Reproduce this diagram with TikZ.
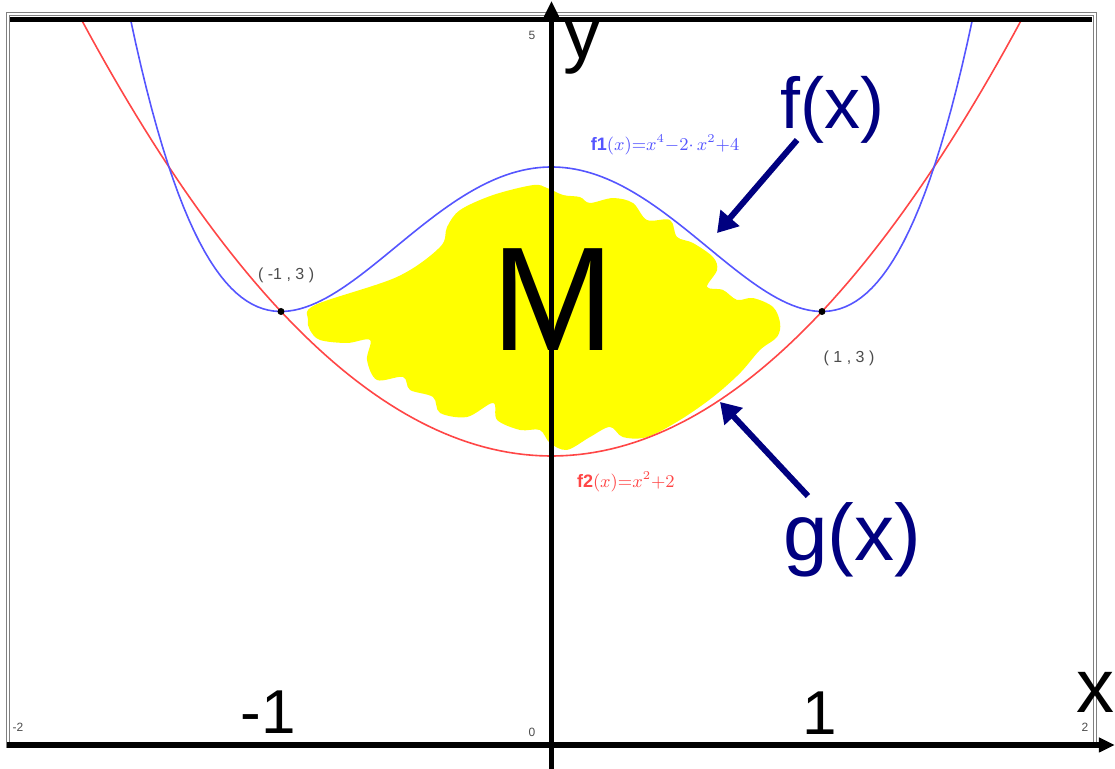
\documentclass[tikz,border=0pt]{standalone}
\usepackage{amsmath}
\usepackage{fontspec}
\setmainfont{Liberation Sans}
\usetikzlibrary{arrows.meta}

\definecolor{fblue}{RGB}{85,85,255}
\definecolor{gred}{RGB}{255,70,70}
\definecolor{navy}{RGB}{0,0,128}
\definecolor{blob}{RGB}{255,255,0}

\tikzset{
  axis/.style={line width=2.8pt,-{Triangle[length=8pt,width=7pt]}},
  pointer/.style={navy,line width=3pt,-{Triangle[length=10pt,width=12pt]}},
  dot/.style={circle,fill=black,inner sep=0pt,minimum size=3.5pt},
  bigtext/.style={font=\fontsize{#1}{#1}\selectfont,inner sep=0pt},
  ticklab/.style={gray!60!black,font=\fontsize{6}{6}\selectfont,inner sep=0pt},
  pointlab/.style={gray!60!black,font=\fontsize{8}{8}\selectfont,inner sep=0pt},
  funclab/.style={inner sep=0pt,font=\fontsize{9}{9}\selectfont},
}

\begin{document}
\begin{tikzpicture}[x=135.25pt,y=72.25pt]
\useasboundingbox (-2.0388,-0.1661) rectangle (2.0832,5.1557);
% window frame
\draw[gray,line width=0.5pt,double=white,double distance=1pt] (-2.0074,-0.01) rectangle (2.0092,5.059);
% shaded area M
\fill[blob] plot[smooth cycle,tension=0.55] coordinates {
(-0.900,2.941) (-0.874,3.045) (-0.571,3.239) (-0.412,3.446) (-0.386,3.585)
(-0.338,3.702) (-0.216,3.806) (-0.068,3.875) (-0.017,3.855) (0.043,3.806)
(0.105,3.792) (0.142,3.751) (0.227,3.785) (0.301,3.751) (0.353,3.633)
(0.438,3.633) (0.464,3.516) (0.523,3.474) (0.597,3.377) (0.612,3.287)
(0.575,3.170) (0.634,3.149) (0.686,3.080) (0.745,3.093) (0.819,3.031)
(0.845,2.920) (0.834,2.824) (0.771,2.734) (0.697,2.574) (0.597,2.408)
(0.475,2.249) (0.353,2.131) (0.264,2.131) (0.216,2.201) (0.142,2.131)
(0.057,2.042) (-0.006,2.090) (-0.043,2.180) (-0.116,2.180) (-0.201,2.249)
(-0.216,2.367) (-0.312,2.270) (-0.412,2.298) (-0.438,2.408) (-0.523,2.457)
(-0.549,2.547) (-0.645,2.526) (-0.682,2.664) (-0.671,2.803) (-0.756,2.782)
(-0.856,2.803) (-0.893,2.872)};
% graphs
\draw[gred,line width=0.8pt,domain=-1.739:1.739,samples=120] plot (\x,{\x*\x+2});
\draw[fblue,line width=0.8pt,domain=-1.5565:1.5565,samples=160] plot (\x,{\x*\x*\x*\x-2*\x*\x+4});
% axes
\path
(-2.013,0) coordinate (xl)
(2.083,0) coordinate (xr)
(0,-0.1661) coordinate (yb)
(0,5.15) coordinate (yt)
(-2.0,5.024) coordinate (tl)
(2.0,5.024) coordinate (tr);
\draw[line width=2.5pt] (tl) -- (tr);
\draw[axis] (xl) -- (xr);
\draw[axis] (yb) -- (yt);
\path
(-1,3) node[dot] (A) {}
(1,3) node[dot] (B) {}
(-0.981,3.253) node[pointlab] (Ap) {( -1 , 3 )}
(1.100,2.678) node[pointlab] (Bp) {( 1 , 3 )}
(-0.072,4.913) node[ticklab] (five) {5}
(-0.072,0.09) node[ticklab] (zero) {0}
(-1.972,0.125) node[ticklab] (mtwo) {-2}
(1.972,0.125) node[ticklab] (two) {2}
(0.420,4.152) node[funclab,fblue] (f1) {$\mathbf{f1}(x){=}x^{4}{-}2{\cdot}\,x^{2}{+}4$}
(0.275,1.820) node[funclab,gred] (f2) {$\mathbf{f2}(x){=}x^{2}{+}2$}
(-1.047,0.228) node[bigtext=31] (m1) {-1}
(0.993,0.221) node[bigtext=31] (p1) {1}
(1.939,0.228) node[bigtext=38,anchor=base west] (xlab) {x}
(0.043,4.754) node[bigtext=38,anchor=base west] (ylab) {y}
(0.006,3.080) node[bigtext=74] (M) {M}
(1.040,4.394) node[bigtext=36,navy] (fx) {f(x)}
(1.111,1.419) node[bigtext=40,navy] (gx) {g(x)};
% pointers to the graphs
\path
(0.908,4.187) coordinate (fs)
(0.612,3.543) coordinate (ft)
(0.948,1.723) coordinate (gs)
(0.623,2.374) coordinate (gt);
\draw[pointer] (fs) -- (ft);
\draw[pointer] (gs) -- (gt);
\end{tikzpicture}
\end{document}
